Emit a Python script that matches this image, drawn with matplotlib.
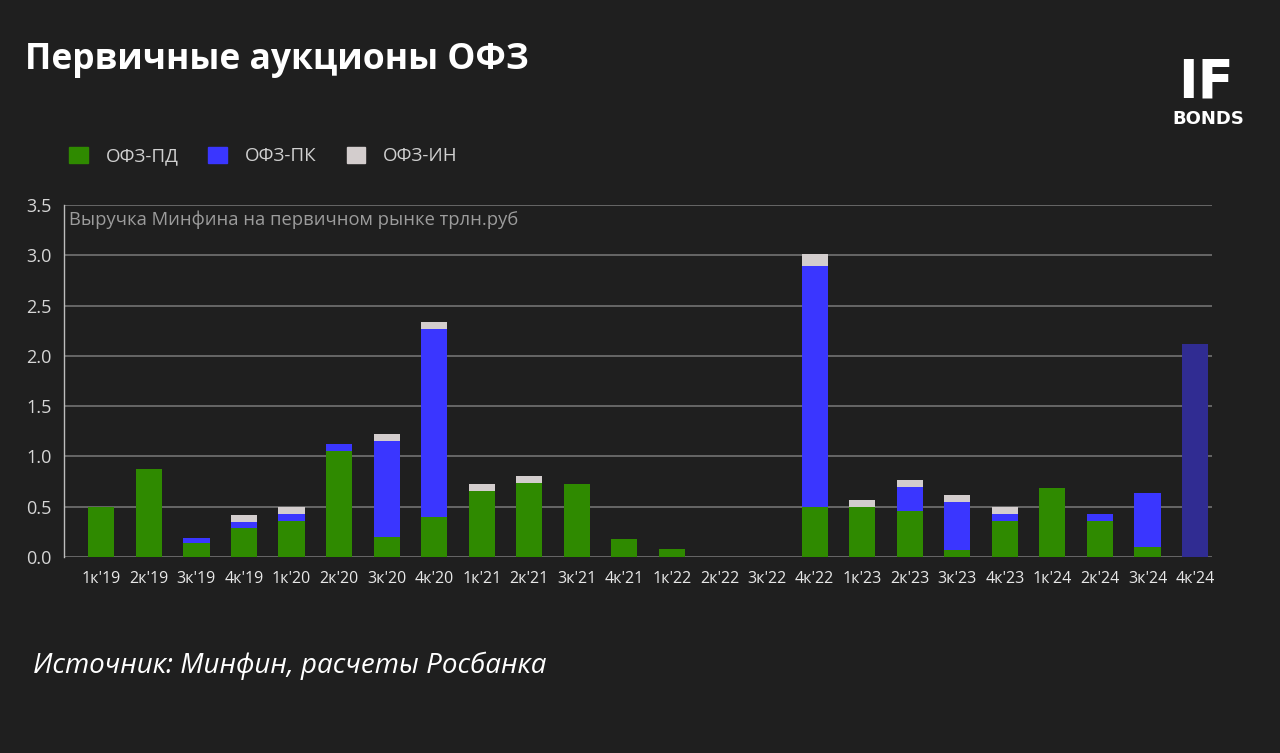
import matplotlib.pyplot as plt
from matplotlib.patches import Patch
import numpy as np

plt.rcParams['font.family'] = ['Open Sans', 'DejaVu Sans']

# quarters and auction volumes, trln rub
quarters = ["1к'19", "2к'19", "3к'19", "4к'19", "1к'20", "2к'20", "3к'20", "4к'20",
            "1к'21", "2к'21", "3к'21", "4к'21", "1к'22", "2к'22", "3к'22", "4к'22",
            "1к'23", "2к'23", "3к'23", "4к'23", "1к'24", "2к'24", "3к'24", "4к'24"]
ofz_pd = [0.50, 0.87, 0.14, 0.285, 0.36, 1.055, 0.195, 0.395,
          0.66, 0.74, 0.73, 0.18, 0.077, 0.0, 0.0, 0.50,
          0.50, 0.46, 0.073, 0.36, 0.69, 0.36, 0.10, 0.0]
ofz_pk = [0.0, 0.0, 0.045, 0.065, 0.07, 0.07, 0.96, 1.875,
          0.0, 0.0, 0.0, 0.0, 0.0, 0.0, 0.0, 2.39,
          0.0, 0.233, 0.477, 0.07, 0.0, 0.07, 0.54, 2.12]
ofz_in = [0.0, 0.0, 0.0, 0.07, 0.07, 0.0, 0.067, 0.07,
          0.07, 0.065, 0.0, 0.0, 0.0, 0.0, 0.0, 0.12,
          0.067, 0.073, 0.07, 0.07, 0.0, 0.0, 0.0, 0.0]

bg = '#1f1f1f'
green = '#2f8a00'
blue = '#3a36ff'
grey = '#d3cdcd'
last_blue = '#302c92'  # 4к'24 bar is drawn darker

fig = plt.figure(figsize=(12.8, 7.53), dpi=100, facecolor=bg)
ax = fig.add_axes([0.05, 0.2603, 0.897, 0.4675])
ax.set_facecolor(bg)

x = np.arange(len(quarters))
pd_ = np.array(ofz_pd)
pk = np.array(ofz_pk)
inn = np.array(ofz_in)
w = 0.55
pk_colors = [blue] * (len(quarters) - 1) + [last_blue]

ax.bar(x, pd_, width=w, color=green, zorder=3)
ax.bar(x, pk, width=w, bottom=pd_, color=pk_colors, zorder=3)
ax.bar(x, inn, width=w, bottom=pd_ + pk, color=grey, zorder=3)

ax.set_ylim(0, 3.5)
ax.set_xlim(-0.785, 23.36)
ax.set_yticks(np.arange(0, 3.51, 0.5))
ax.set_yticklabels([f'{v:.1f}' for v in np.arange(0, 3.51, 0.5)])
ax.set_xticks(x)
ax.set_xticklabels(quarters)
ax.grid(axis='y', color='#7a7a7a', linewidth=1.1, zorder=0)
ax.tick_params(axis='y', length=0, pad=9, labelsize=13, labelcolor='#d6d6d6')
ax.tick_params(axis='x', length=0, pad=10, labelsize=11.5, labelcolor='#e8e8e8')
for s in ['top', 'right', 'bottom']:
    ax.spines[s].set_visible(False)
ax.spines['left'].set_color('#bdbdbd')
ax.spines['left'].set_linewidth(1.0)

ax.text(0.004, 0.985, 'Выручка Минфина на первичном рынке трлн.руб',
        transform=ax.transAxes, ha='left', va='top', fontsize=13.2, color='#9c9c9c')

fig.text(25 / 1280, 1 - 60 / 753, 'Первичные аукционы ОФЗ', ha='left', va='center',
         fontsize=25.5, fontweight='bold', color='white')

# logo
fig.text(1206 / 1280, 1 - 83 / 753, 'IF', ha='center', va='center', fontsize=38,
         fontweight='bold', color='white', family='DejaVu Sans')
fig.text(1208 / 1280, 1 - 119 / 753, 'BONDS', ha='center', va='center', fontsize=13,
         fontweight='bold', color='white', family='DejaVu Sans')

handles = [Patch(color=green, label='ОФЗ-ПД'), Patch(color=blue, label='ОФЗ-ПК'),
           Patch(color=grey, label='ОФЗ-ИН')]
fig.legend(handles=handles, loc='center left', bbox_to_anchor=(52 / 1280, 1 - 156 / 753),
           ncol=3, frameon=False, fontsize=13.5, labelcolor='#d0d0d0',
           handlelength=1.0, handleheight=1.0, handletextpad=0.95, columnspacing=1.6)

fig.text(33 / 1280, 1 - 666 / 753, 'Источник: Минфин, расчеты Росбанка', ha='left',
         va='center', fontsize=20, style='italic', color='white')

fig.savefig('out.png', dpi=100, facecolor=bg)
